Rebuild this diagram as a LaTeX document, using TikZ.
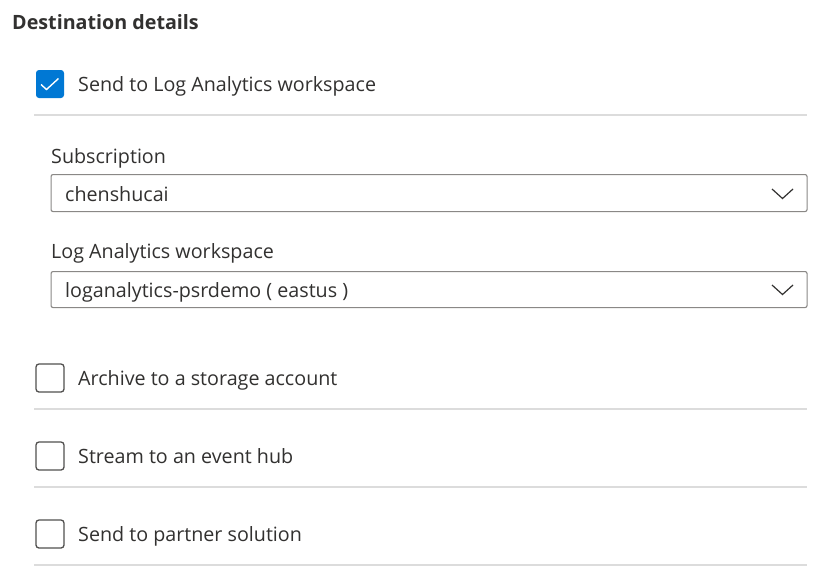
\documentclass[tikz,border=0pt]{standalone}
\usepackage{fontspec}
\setmainfont{Open Sans}
\definecolor{txt}{HTML}{323130}
\definecolor{sep}{HTML}{DCDCDC}
\definecolor{boxline}{HTML}{8A8886}
\definecolor{azblue}{HTML}{0078D4}
\begin{document}
\begin{tikzpicture}[x=1pt,y=-1pt,
  lbl/.style={anchor=base west,inner sep=0pt,text=txt,font=\fontsize{19.7}{23}\selectfont},
  ttl/.style={anchor=base west,inner sep=0pt,text=txt,font=\fontsize{19.7}{23}\selectfont\bfseries},
  sepline/.style={draw=sep,line width=2pt},
  dropbox/.style={draw=boxline,line width=1.1pt,rounded corners=2pt,fill=white},
  chev/.style={draw=txt,line width=1.2pt},
  cbempty/.style={draw=txt!85,line width=1.3pt,rounded corners=3pt,fill=white},
  cbfull/.style={fill=azblue,rounded corners=3pt},
  tick/.style={draw=white,line width=1.4pt}
]
\fill[white] (0,0) rectangle (819,579);
\useasboundingbox (0,0) rectangle (819,579);

\node[ttl] (title) at (12,29) {Destination details};

% checked option
\path[cbfull] (36,70) rectangle (64,98);
\coordinate (t1) at (41,84.5);
\coordinate (t2) at (46.5,89.5);
\coordinate (t3) at (58.5,78.5);
\draw[tick] (t1) -- (t2) -- (t3);
\node[lbl] (la) at (78,91) {Send to Log Analytics workspace};
\coordinate (s1a) at (34,115); \coordinate (s1b) at (807,115);
\draw[sepline] (s1a) -- (s1b);

\node[lbl] (sub) at (51,163) {Subscription};
\node[dropbox,minimum width=756pt,minimum height=37pt,anchor=north west,inner sep=0pt] (dd1) at (50.5,174) {};
\node[lbl] (dd1t) at (65,201) {chenshucai};
\draw[chev] (772,189) -- (782.5,198.5) -- (793,189);

\node[lbl] (law) at (51,258) {Log Analytics workspace};
\node[dropbox,minimum width=756pt,minimum height=36pt,anchor=north west,inner sep=0pt] (dd2) at (50.5,271) {};
\node[lbl] (dd2t) at (65,297) {loganalytics-psrdemo ( eastus )};
\draw[chev] (772,285) -- (782.5,294.5) -- (793,285);

% unchecked options
\path[cbempty] (36,364) rectangle (64,392);
\node[lbl] (ar) at (78,385) {Archive to a storage account};
\coordinate (s2a) at (34,409); \coordinate (s2b) at (807,409);
\draw[sepline] (s2a) -- (s2b);

\path[cbempty] (36,442) rectangle (64,470);
\node[lbl] (st) at (78,463) {Stream to an event hub};
\coordinate (s3a) at (34,487); \coordinate (s3b) at (807,487);
\draw[sepline] (s3a) -- (s3b);

\path[cbempty] (36,520) rectangle (64,548);
\node[lbl] (ps) at (78,541) {Send to partner solution};
\coordinate (s4a) at (34,565); \coordinate (s4b) at (807,565);
\draw[sepline] (s4a) -- (s4b);
\end{tikzpicture}
\end{document}
